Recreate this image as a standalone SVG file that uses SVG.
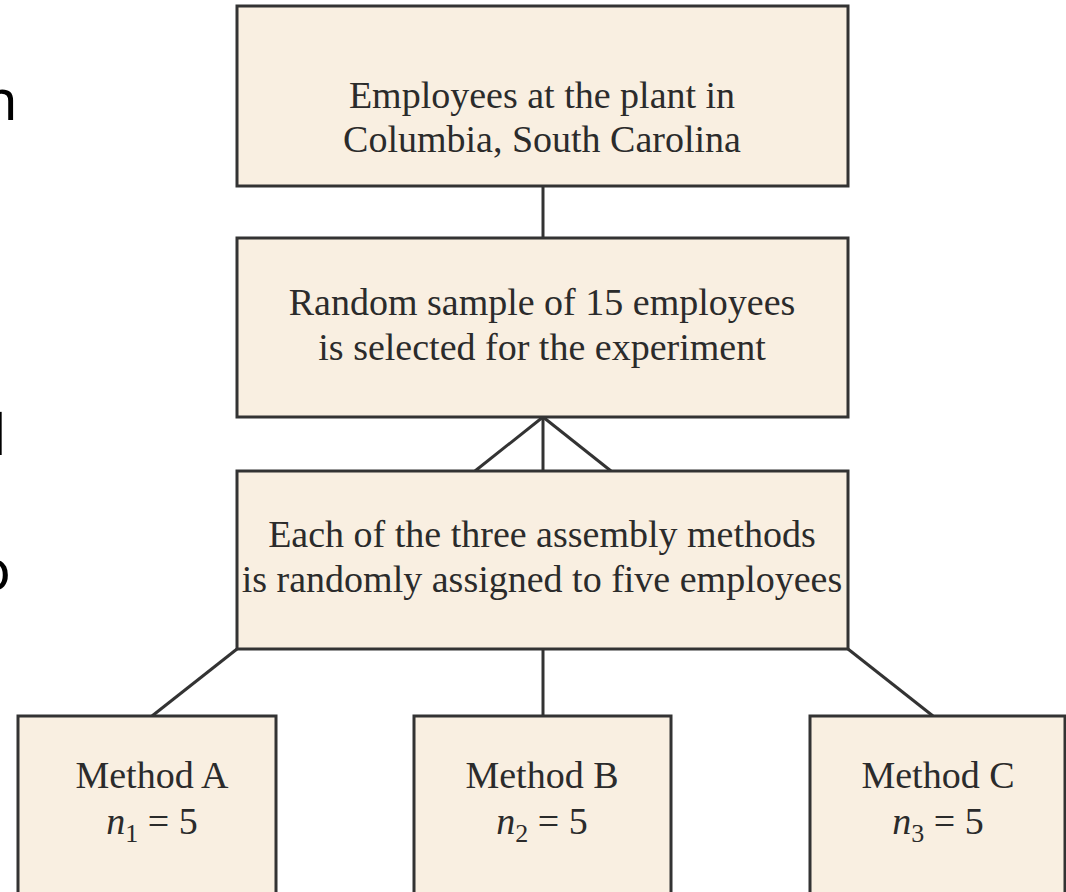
<svg xmlns="http://www.w3.org/2000/svg" width="1066" height="892" viewBox="0 0 1066 892">
<style>
.box{fill:#F9EFE1;stroke:#333;stroke-width:3}
.t{font-family:"Liberation Serif","Times New Roman",serif;font-size:38px;fill:#2b2b2b;text-anchor:middle}
.it{font-style:italic}
.sub{font-size:26px}
.edge{stroke:#333;stroke-width:3;fill:none}
.side{font-family:"Noto Sans","Open Sans",sans-serif;font-size:56px;fill:#000}
</style>
<rect width="1066" height="892" fill="#fff"/>
<g id="margin-text">
<text class="side" x="-17" y="120">n</text>
<text class="side" x="-8" y="455">l</text>
<text class="side" x="-23" y="590">o</text>
</g>
<g id="connectors">
<line class="edge" x1="543" y1="186" x2="543" y2="238"/>
<line class="edge" x1="543" y1="417" x2="475" y2="471"/>
<line class="edge" x1="543" y1="417" x2="543" y2="471"/>
<line class="edge" x1="543" y1="417" x2="611" y2="471"/>
<line class="edge" x1="237" y1="649" x2="152" y2="716"/>
<line class="edge" x1="543" y1="649" x2="543" y2="716"/>
<line class="edge" x1="848" y1="649" x2="933" y2="716"/>
</g>
<g id="population">
<rect class="box" x="237" y="6" width="611" height="180"/>
<text class="t" x="542" y="108">Employees at the plant in</text>
<text class="t" x="542" y="152">Columbia, South Carolina</text>
</g>
<g id="sample">
<rect class="box" x="237" y="238" width="611" height="179"/>
<text class="t" x="542" y="315">Random sample of 15 employees</text>
<text class="t" x="542" y="360">is selected for the experiment</text>
</g>
<g id="assignment">
<rect class="box" x="237" y="471" width="611" height="178"/>
<text class="t" x="542" y="547">Each of the three assembly methods</text>
<text class="t" x="542" y="592">is randomly assigned to five employees</text>
</g>
<g id="methodA">
<rect class="box" x="18" y="716" width="258" height="190"/>
<text class="t" x="152" y="788">Method A</text>
<text class="t" x="152" y="834"><tspan class="it">n</tspan><tspan class="sub" dy="8">1</tspan><tspan dy="-8"> = 5</tspan></text>
</g>
<g id="methodB">
<rect class="box" x="414" y="716" width="257" height="190"/>
<text class="t" x="542" y="788">Method B</text>
<text class="t" x="542" y="834"><tspan class="it">n</tspan><tspan class="sub" dy="8">2</tspan><tspan dy="-8"> = 5</tspan></text>
</g>
<g id="methodC">
<rect class="box" x="810" y="716" width="255" height="190"/>
<text class="t" x="938" y="788">Method C</text>
<text class="t" x="938" y="834"><tspan class="it">n</tspan><tspan class="sub" dy="8">3</tspan><tspan dy="-8"> = 5</tspan></text>
</g>
</svg>
